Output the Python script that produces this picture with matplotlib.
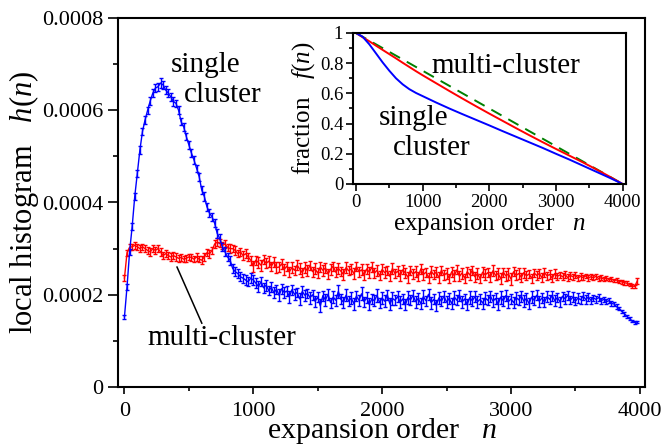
import numpy as np
import matplotlib
matplotlib.use("Agg")
import matplotlib.pyplot as plt
from matplotlib.ticker import MultipleLocator

plt.rcParams['font.family'] = ['Liberation Serif', 'DejaVu Serif']
plt.rcParams['mathtext.fontset'] = 'custom'
plt.rcParams['mathtext.rm'] = 'Liberation Serif'
plt.rcParams['mathtext.it'] = 'Liberation Serif:italic'

# ---------------- data (main panel), values in units of 1e-6 ----------------
n_step = 20
single_h = [
    152, 217, 293, 348, 413, 463, 514, 554, 579, 600,
    620, 637, 648, 651, 659, 655, 644, 637, 629, 619,
    615, 600, 575, 564, 543, 525, 507, 492, 474, 456,
    427, 413, 391, 377, 369, 355, 333, 322, 304, 293,
    282, 275, 257, 250, 246, 239, 236, 232, 228, 236,
    232, 225, 218, 228, 215, 221, 209, 216, 204, 212,
    199, 213, 205, 208, 196, 211, 201, 205, 191, 207,
    199, 203, 194, 200, 186, 195, 176, 198, 189, 201,
    183, 195, 188, 207, 190, 184, 199, 186, 193, 181,
    197, 188, 202, 185, 194, 179, 191, 187, 199, 183,
    193, 186, 200, 180, 192, 188, 196, 184, 191, 178,
    194, 189, 199, 185, 192, 181, 196, 187, 201, 183,
    190, 177, 193, 186, 197, 184, 192, 181, 195, 188,
    199, 184, 191, 179, 194, 187, 196, 185, 190, 182,
    193, 188, 197, 186, 192, 180, 195, 187, 198, 185,
    191, 183, 194, 189, 197, 186, 192, 181, 195, 188,
    199, 186, 193, 184, 196, 190, 198, 187, 194, 185,
    197, 191, 199, 188, 195, 186, 193, 189, 197, 190,
    195, 188, 193, 190, 194, 187, 190, 185, 187, 181,
    180, 174, 170, 164, 159, 153, 148, 143, 140, 141,
]
single_err = [
    5, 6, 7, 7, 7, 8, 8, 8, 8, 8,
    8, 8, 9, 9, 10, 9, 9, 9, 8, 9,
    8, 9, 8, 9, 8, 9, 8, 9, 8, 9,
    8, 9, 9, 9, 9, 9, 9, 10, 9, 10,
    9, 10, 9, 10, 9, 10, 10, 11, 10, 11,
    10, 11, 12, 10, 11, 12, 10, 11, 12, 10,
    13, 11, 12, 10, 13, 11, 12, 10, 13, 11,
    12, 10, 13, 11, 12, 10, 14, 11, 13, 12,
    11, 13, 12, 14, 11, 12, 13, 11, 12, 13,
    11, 12, 14, 11, 12, 13, 11, 12, 14, 11,
    12, 13, 11, 12, 14, 11, 12, 13, 11, 12,
    14, 11, 12, 13, 11, 12, 14, 11, 12, 13,
    11, 12, 14, 11, 12, 13, 11, 12, 14, 11,
    12, 13, 11, 12, 14, 11, 12, 13, 11, 12,
    14, 11, 12, 13, 11, 12, 14, 11, 12, 13,
    11, 12, 13, 11, 12, 13, 11, 12, 13, 10,
    11, 12, 10, 11, 12, 10, 11, 12, 10, 11,
    10, 11, 10, 9, 10, 9, 10, 9, 8, 9,
    8, 8, 7, 7, 7, 6, 6, 6, 5, 5,
    5, 5, 4, 4, 4, 4, 3, 3, 3, 3,
]
multi_h = [
    236, 291, 303, 304, 307, 304, 300, 304, 300, 296,
    293, 300, 296, 300, 293, 285, 289, 285, 282, 285,
    282, 279, 281, 277, 279, 282, 281, 277, 282, 277,
    275, 282, 291, 289, 296, 310, 314, 312, 307, 310,
    303, 300, 300, 296, 289, 293, 285, 289, 282, 275,
    262, 275, 270, 264, 276, 268, 273, 262, 271, 259,
    260, 267, 255, 262, 250, 259, 253, 264, 256, 248,
    259, 252, 264, 250, 256, 247, 260, 253, 258, 245,
    255, 262, 249, 257, 251, 244, 259, 252, 256, 246,
    261, 250, 254, 243, 256, 249, 260, 247, 253, 241,
    255, 248, 252, 240, 257, 246, 251, 242, 254, 247,
    238, 253, 245, 250, 239, 256, 244, 249, 237, 251,
    244, 249, 237, 253, 242, 247, 236, 250, 241, 254,
    240, 247, 236, 250, 243, 253, 239, 246, 235, 249,
    243, 248, 238, 252, 242, 246, 235, 249, 241, 245,
    234, 250, 242, 246, 238, 248, 241, 245, 236, 247,
    242, 246, 237, 248, 241, 244, 236, 246, 240, 243,
    239, 244, 237, 242, 239, 243, 236, 240, 237, 241,
    236, 239, 237, 240, 235, 237, 234, 236, 233, 234,
    231, 232, 229, 228, 226, 225, 222, 219, 218, 230,
]
multi_err = [
    6, 7, 7, 7, 8, 7, 8, 7, 8, 7,
    8, 7, 8, 7, 8, 7, 8, 7, 8, 7,
    8, 7, 8, 7, 8, 7, 8, 7, 8, 7,
    8, 9, 8, 9, 8, 9, 8, 9, 8, 9,
    8, 9, 8, 9, 8, 9, 9, 10, 9, 10,
    12, 10, 11, 12, 10, 11, 12, 10, 11, 12,
    10, 11, 12, 10, 11, 12, 10, 11, 12, 10,
    11, 12, 10, 11, 12, 10, 11, 12, 10, 11,
    12, 10, 11, 12, 10, 11, 12, 10, 11, 12,
    10, 11, 12, 10, 11, 12, 10, 11, 12, 10,
    11, 12, 10, 11, 12, 10, 11, 12, 10, 11,
    12, 10, 11, 12, 10, 11, 12, 10, 11, 12,
    10, 11, 12, 10, 11, 12, 10, 11, 12, 10,
    11, 12, 10, 11, 12, 10, 11, 12, 10, 11,
    12, 10, 11, 12, 10, 11, 12, 10, 11, 12,
    13, 10, 11, 12, 10, 11, 10, 9, 10, 9,
    10, 9, 10, 9, 8, 9, 8, 9, 8, 7,
    8, 7, 8, 7, 6, 7, 6, 7, 6, 5,
    6, 5, 6, 5, 5, 5, 4, 5, 4, 4,
    4, 4, 4, 4, 4, 4, 4, 4, 4, 6,
]

# ---------------- data (inset): fraction f(n) ----------------
inset_n = [0, 100, 200, 300, 400, 500, 600, 700, 800, 900, 1000, 1200, 1400,
           1600, 1800, 2000, 2200, 2400, 2600, 2800, 3000, 3200, 3400, 3600,
           3800, 4000]
single_f = [1.0, 0.975, 0.925, 0.865, 0.805, 0.75, 0.70, 0.66, 0.628, 0.603,
            0.582, 0.540, 0.500, 0.462, 0.425, 0.388, 0.350, 0.313, 0.276,
            0.239, 0.200, 0.162, 0.122, 0.082, 0.042, 0.0]
multi_f = [1.0, 0.972, 0.945, 0.916, 0.888, 0.860, 0.832, 0.803, 0.775, 0.747,
           0.720, 0.668, 0.616, 0.565, 0.515, 0.466, 0.418, 0.370, 0.323,
           0.277, 0.232, 0.188, 0.144, 0.098, 0.050, 0.0]
uniform_n = [0, 4000]
uniform_f = [1.0, 0.0]

main_yticks = [0, 0.0002, 0.0004, 0.0006, 0.0008]
main_yticklabels = ['0', '0.0002', '0.0004', '0.0006', '0.0008']
main_xticks = [0, 1000, 2000, 3000, 4000]
inset_yticks = [0, 0.2, 0.4, 0.6, 0.8, 1.0]
inset_yticklabels = ['0', '0.2', '0.4', '0.6', '0.8', '1']

# ---------------- figure ----------------
W, H = 662, 448
fig = plt.figure(figsize=(W / 100, H / 100), dpi=100)

def px_axes(l, t, r, b):
    return [l / W, 1 - b / H, (r - l) / W, (b - t) / H]

ax = fig.add_axes(px_axes(118, 18, 645, 387))
n = np.arange(len(single_h)) * n_step
sh = np.array(single_h) * 1e-6
se = np.array(single_err) * 1e-6
mh = np.array(multi_h) * 1e-6
me = np.array(multi_err) * 1e-6

ax.errorbar(n, mh, yerr=me, color='#ff0000', lw=1.0, elinewidth=1.0,
            capsize=1.7, capthick=1.0)
ax.errorbar(n, sh, yerr=se, color='#0000ff', lw=1.0, elinewidth=1.0,
            capsize=1.7, capthick=1.0)

ax.set_xlim(-50, 4040)
ax.set_ylim(0, 0.0008)
ax.set_yticks(main_yticks)
ax.set_yticklabels(main_yticklabels)
ax.set_xticks(main_xticks)
ax.xaxis.set_minor_locator(MultipleLocator(500))
ax.yaxis.set_minor_locator(MultipleLocator(0.0001))
ax.tick_params(axis='both', which='both', direction='out', labelsize=16, width=1.2)
ax.tick_params(axis='y', which='major', length=7)
ax.tick_params(axis='y', which='minor', length=3.5)
ax.tick_params(axis='x', which='major', length=5, pad=6)
ax.tick_params(axis='x', which='minor', length=3)
for s in ax.spines.values():
    s.set_linewidth(1.5)
ax.set_xlabel('expansion order   $n$', fontsize=21.5, labelpad=-4)
ax.set_ylabel('local histogram   $h(n)$', fontsize=22, labelpad=1)

ax.text(0.10, 0.854, 'single', transform=ax.transAxes, fontsize=21,
        ha='left', va='baseline')
ax.text(0.125, 0.772, 'cluster', transform=ax.transAxes, fontsize=21,
        ha='left', va='baseline')
ax.text(0.055, 0.114, 'multi-cluster', transform=ax.transAxes, fontsize=21,
        ha='left', va='baseline')
ax.plot([0.112, 0.159], [0.325, 0.173], transform=ax.transAxes, color='black',
        lw=1.1)

# ---------------- inset ----------------
ins = fig.add_axes(px_axes(353, 33, 626, 184))
ins.plot(uniform_n, uniform_f, color='#008000', lw=1.4, ls=(0, (6, 4)))
ins.plot(inset_n, multi_f, color='#ff0000', lw=1.4)
ins.plot(inset_n, single_f, color='#0000ff', lw=1.4)
ins.set_xlim(-45, 4050)
ins.set_ylim(0, 1)
ins.set_xticks(main_xticks)
ins.set_yticks(inset_yticks)
ins.set_yticklabels(inset_yticklabels)
ins.xaxis.set_minor_locator(MultipleLocator(500))
ins.yaxis.set_minor_locator(MultipleLocator(0.1))
ins.tick_params(axis='both', which='both', direction='out', labelsize=13.5, width=1.2)
ins.tick_params(which='major', length=5, pad=2)
ins.tick_params(which='minor', length=3)
for s in ins.spines.values():
    s.set_linewidth(1.5)
ins.set_xlabel('expansion order   $n$', fontsize=18, labelpad=0)
ins.set_ylabel('fraction   $f(n)$', fontsize=18, labelpad=2)
ins.text(0.289, 0.735, 'multi-cluster', transform=ins.transAxes, fontsize=21,
         ha='left', va='baseline')
ins.text(0.095, 0.39, 'single', transform=ins.transAxes, fontsize=21,
         ha='left', va='baseline')
ins.text(0.147, 0.192, 'cluster', transform=ins.transAxes, fontsize=21,
         ha='left', va='baseline')

fig.savefig('out.png', dpi=100)
